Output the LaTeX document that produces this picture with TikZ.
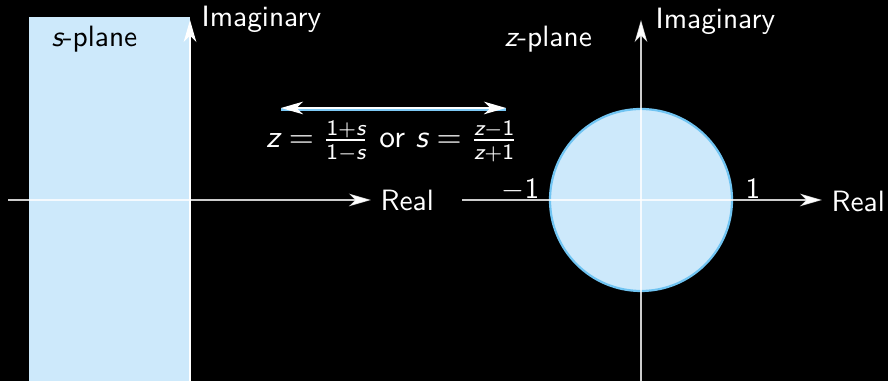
\documentclass[tikz,border=0pt]{standalone}
\usepackage{amsmath}
\usepackage{tikz}
\usetikzlibrary{arrows.meta}

\definecolor{planefill}{HTML}{CDE9FB}
\definecolor{circleedge}{HTML}{70C4F2}
\definecolor{mapblue}{HTML}{7CC8F4}

% sans italic letters for the maths
\newcommand{\mv}[1]{\text{\sffamily\itshape #1}}
\newcommand{\nm}[1]{\text{\sffamily #1}}

\tikzset{wtip/.tip={Stealth[length=7.5pt, width=4.3pt, inset=2.2pt, color=white]}}

\begin{document}
\begin{tikzpicture}[
  x=0.34pt, y=-0.34pt,
  lbl/.style   ={text=white, font=\sffamily, inner sep=0pt},
  axis/.style  ={draw=white, draw opacity=0.8, line width=0.42pt},
  arr/.style   ={-wtip},
  region/.style={fill=planefill},
  disc/.style  ={fill=planefill, draw=circleedge, line width=0.75pt},
]
\fill[black] (0,0) rectangle (888,381);
\useasboundingbox (0,0) rectangle (888,381);

% s-plane
\coordinate (sO) at (190,200);
\coordinate (sL) at (8,200);
\coordinate (sR) at (371,200);
\coordinate (sB) at (190,381);
\coordinate (sT) at (190,20);
\fill[region] (29,17) rectangle (sB);
\draw[axis, arr] (sL) -- (sR);
\draw[axis, draw opacity=1, arr] (sB) -- (sT);

\node[lbl, anchor=base west] (sImag) at (201,27) {Imaginary};
\node[lbl, anchor=base west] (sReal) at (380,211) {Real};
\node[lbl, anchor=base west, text=black] (sName) at (51,47) {$\mv{s}$-plane};

% z-plane
\coordinate (zO) at (641,200);
\coordinate (zL) at (462,200);
\coordinate (zR) at (822,200);
\coordinate (zB) at (641,381);
\coordinate (zT) at (641,20);
\draw[disc] (zO) circle (91);
\draw[axis, arr] (zL) -- (zR);
\draw[axis, arr] (zB) -- (zT);

\node[lbl, anchor=base west] (zImag) at (655,29) {Imaginary};
\node[lbl, anchor=base west] (zReal) at (831,212) {Real};
\node[lbl, anchor=base west] (zName) at (504,47) {$\mv{z}$-plane};
\node[lbl, anchor=base east] (mOne) at (540,199) {$-\nm{1}$};
\node[lbl, anchor=base west] (pOne) at (745,199) {1};

% mapping between the planes
\coordinate (mapL) at (281,108);
\coordinate (mapR) at (506,108);
\draw[mapblue, line width=1.1pt] ([yshift=-0.55pt]mapL) -- ([yshift=-0.55pt]mapR);
\draw[white, line width=0.5pt, wtip-wtip] (mapL) -- (mapR);
\node[lbl, anchor=base, font=\sffamily\fontsize{10.7}{13}\selectfont] (map) at (392,148)
  {$\mv{z}=\frac{\nm{1}+\mv{s}}{\nm{1}-\mv{s}}$ or $\mv{s}=\frac{\mv{z}-\nm{1}}{\mv{z}+\nm{1}}$};
\end{tikzpicture}
\end{document}
